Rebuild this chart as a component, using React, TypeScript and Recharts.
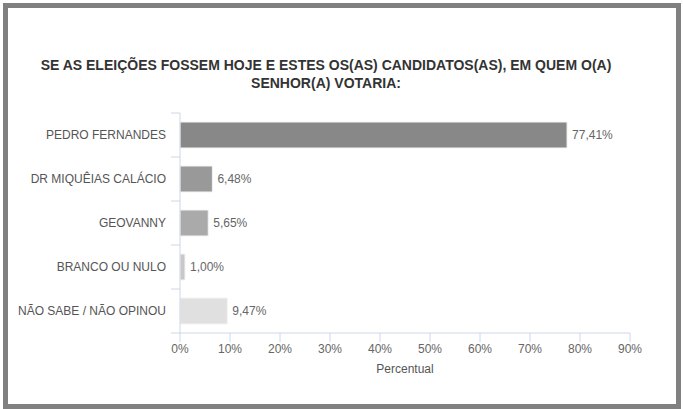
import { BarChart, Bar, XAxis, YAxis, Cell, LabelList } from "recharts";

const categories = [
  "PEDRO FERNANDES",
  "DR MIQUÊIAS CALÁCIO",
  "GEOVANNY",
  "BRANCO OU NULO",
  "NÃO SABE / NÃO OPINOU",
];

const percentages = [77.41, 6.48, 5.65, 1.0, 9.47];

const barColors = ["#888888", "#999999", "#aaaaaa", "#c8c8c8", "#e0e0e0"];

const xTicks = [0, 10, 20, 30, 40, 50, 60, 70, 80, 90];

const title = [
  "SE AS ELEIÇÕES FOSSEM HOJE E ESTES OS(AS) CANDIDATOS(AS), EM QUEM O(A)",
  "SENHOR(A) VOTARIA:",
];

const data = categories.map((name, i) => ({
  name,
  value: percentages[i],
}));

const font = "'Liberation Sans', Arial, sans-serif";
const axisColor = "#ccd6eb";
const labelGap = 14;
const tickLen = 9;

const fmt = (v: any) => Number(v).toFixed(2).replace(".", ",") + "%";

// category label plus a tick mark on the band boundary above it (and below the last one)
function CategoryTick(props: any) {
  const { x, y, payload, index, visibleTicksCount } = props;
  const half = payload && payload.offset ? payload.offset : 22;
  const ax = x + labelGap;
  const isLast = index === (visibleTicksCount ?? categories.length) - 1;
  return (
    <g>
      <line x1={ax - tickLen} x2={ax} y1={y - half} y2={y - half} stroke={axisColor} />
      {isLast && (
        <line x1={ax - tickLen} x2={ax} y1={y + half} y2={y + half} stroke={axisColor} />
      )}
      <text
        x={x}
        y={y}
        dy="0.355em"
        textAnchor="end"
        fill="#555555"
        fontSize={12}
        fontFamily={font}
      >
        {payload.value}
      </text>
    </g>
  );
}

export default function App() {
  return (
    <div
      style={{
        position: "absolute",
        left: 0,
        top: 0,
        width: 683,
        height: 409,
        background: "#ffffff",
        fontFamily: font,
      }}
    >
      <div
        style={{
          position: "absolute",
          left: 3,
          top: 3,
          width: 668,
          height: 396,
          border: "5px solid #808080",
        }}
      />

      <div
        style={{
          position: "absolute",
          left: 0,
          width: 652,
          top: 56,
          textAlign: "center",
          fontWeight: "bold",
          fontSize: 14,
          lineHeight: "18px",
          color: "#333333",
        }}
      >
        {title.map((t) => (
          <div key={t}>{t}</div>
        ))}
      </div>

      <div style={{ position: "absolute", left: 0, top: 0 }}>
        <BarChart
          width={683}
          height={409}
          data={data}
          layout="vertical"
          barCategoryGap="40%"
          margin={{ top: 113, right: 53, bottom: 36, left: 0 }}
        >
          <YAxis
            dataKey="name"
            type="category"
            width={180}
            tickSize={0}
            tickMargin={labelGap}
            tickLine={false}
            axisLine={{ stroke: axisColor }}
            tick={CategoryTick}
          />
          <XAxis
            type="number"
            domain={[0, 90]}
            ticks={xTicks}
            height={40}
            tickSize={9}
            tickMargin={2}
            tickFormatter={(v) => `${v}%`}
            axisLine={{ stroke: axisColor }}
            tickLine={{ stroke: axisColor }}
            tick={{ fill: "#666666", fontSize: 12, fontFamily: font }}
            label={{
              value: "Percentual",
              position: "insideBottom",
              offset: 0,
              fill: "#555555",
              fontSize: 12,
              fontFamily: font,
            }}
          />
          <Bar
            dataKey="value"
            barSize={26}
            stroke="#f4f4f4"
            strokeWidth={1}
            isAnimationActive={false}
          >
            {data.map((d, i) => (
              <Cell key={d.name} fill={barColors[i]} />
            ))}
            <LabelList
              dataKey="value"
              position="right"
              offset={5}
              formatter={fmt}
              style={{ fill: "#666666", fontSize: 12, fontFamily: font }}
            />
          </Bar>
        </BarChart>
      </div>
    </div>
  );
}
